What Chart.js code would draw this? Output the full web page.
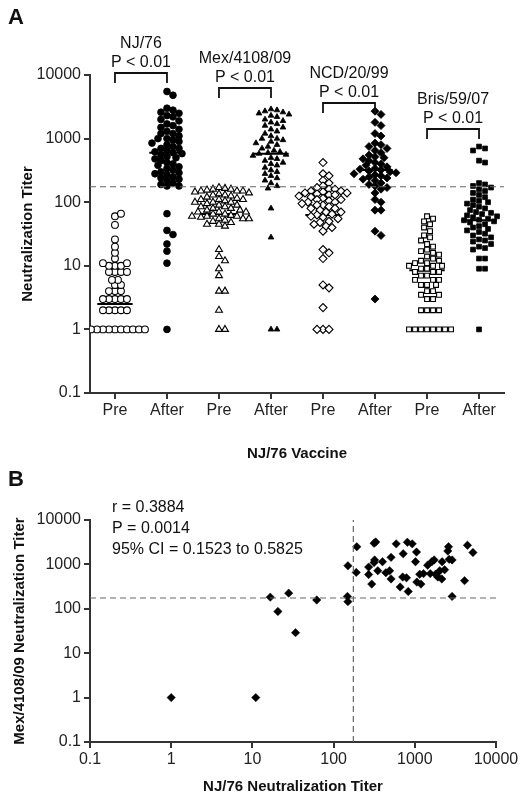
<!DOCTYPE html>
<html>
<head>
<meta charset="utf-8">
<script src="https://cdn.jsdelivr.net/npm/chart.js@4/dist/chart.umd.min.js"></script>
<style>
body { margin: 0; background: #fff; width: 522px; height: 800px; overflow: hidden; }
#wrapA { position: absolute; left: 0; top: 0; width: 522px; height: 460px; }
#wrapB { position: absolute; left: 0; top: 460px; width: 522px; height: 340px; }
</style>
</head>
<body>
<div id="wrapA"><canvas id="chartA"></canvas></div>
<div id="wrapB"><canvas id="chartB"></canvas></div>
<script>
// ---- panel A data ----
const groupLabels = ["Pre", "After", "Pre", "After", "Pre", "After", "Pre", "After"];
const strains = ["NJ/76", "Mex/4108/09", "NCD/20/99", "Bris/59/07"];
const pValues = ["P < 0.01", "P < 0.01", "P < 0.01", "P < 0.01"];
const tickValues = [0.1, 1, 10, 100, 1000, 10000];
const threshold = 175;

const njPre = [1,1,1,1,1,1,1,1,1,1,2,2,2,2,2,3,3,3,3,3,4,4,4,5,5,6,6,8,8,8,8,10,10,10,11,11,13,16,20,26,44,60,66];
const njAfter = [5500,4800,3000,2800,2600,2500,2300,2200,2000,1900,1700,1600,1500,1400,1300,1200,1200,1100,1000,1000,950,900,850,800,750,700,700,650,620,600,580,550,520,500,480,450,420,400,380,360,340,320,300,290,280,270,250,240,230,220,200,190,180,180,66,36,31,22,17,11,1];
const mexPre = [170,165,160,160,155,150,150,150,145,140,135,130,130,125,120,115,110,110,110,105,100,100,100,95,90,90,85,85,80,80,75,75,70,70,70,65,65,62,60,60,60,58,55,55,55,52,50,48,45,45,42,18,14,12,9,7,4,4,2,1,1];
const mexAfter = [2900,2800,2700,2600,2500,2400,2300,2200,2000,1900,1800,1700,1600,1500,1400,1300,1200,1100,1000,1000,950,900,850,800,750,700,650,620,600,580,560,540,500,480,450,420,400,380,350,320,300,280,260,240,220,200,180,165,80,28,1,1];
const ncdPre = [420,280,260,220,200,180,170,160,160,150,150,145,140,140,135,130,130,125,120,115,110,110,105,100,100,95,90,90,85,80,80,75,70,70,65,63,60,58,55,50,48,45,42,40,35,18,16,13,5,4.5,2.2,1,1,1];
const ncdAfter = [2700,2400,1800,1600,1200,1100,850,800,750,700,650,600,550,520,500,480,450,420,400,380,360,340,330,320,310,300,290,280,270,260,250,240,230,220,200,190,180,170,160,140,110,100,75,75,35,30,3];
const brisPre = [60,55,50,45,40,35,30,28,25,22,20,18,17,16,15,14,13,12,12,11,11,10,10,10,9,9,8,8,8,7,7,6,6,6,5,5,5,4,4,3.5,3.5,3,3,2,2,2,2,1,1,1,1,1,1,1,1];
const brisAfter = [750,700,650,450,420,200,190,180,170,160,150,140,130,120,110,105,100,95,90,85,80,75,70,68,65,62,60,58,55,53,52,50,48,45,42,40,38,36,34,32,30,28,26,25,24,22,20,19,18,13,13,9,9,1];
const medians = [2.5, 600, 65, 580, 63, 320, 8.5, 52];

// ---- panel B data ----
const njTiter = [1,11,16.6,20.6,28,34,62,148,150,150,193,190,270,270,295,315,330,320,315,350,400,440,490,510,510,590,660,720,710,790,830,810,930,1020,1050,1060,1150,1190,1280,1440,1550,1620,1730,1800,1920,2030,2150,2170,2330,2550,2600,2650,2880,2880,4100,4450,5200];
const mexTiter = [1,1,183,87,225,29,158,190,145,930,2500,660,870,590,360,3000,3200,1260,1100,720,1150,650,720,1440,470,2900,310,1740,520,500,245,3150,2900,1150,1900,400,600,360,620,960,620,1150,1260,600,520,720,470,1150,760,2000,2500,1300,1260,190,430,2700,1850];
const statLines = ["r = 0.3884", "P = 0.0014", "95% CI = 0.1523 to 0.5825"];

const groups = [njPre, njAfter, mexPre, mexAfter, ncdPre, ncdAfter, brisPre, brisAfter];
const styles = ["circle","circle","triangle","triangle","rectRot","rectRot","rect","rect"];

const FONT = "'Liberation Sans', Arial, sans-serif";
Chart.defaults.font.family = FONT;
Chart.defaults.color = "#222";

// greedy beeswarm: px per category unit 52, px per decade 64.5
function swarm(values, center) {
  const placed = [];
  const minD = 5.6;
  return values.map(v => {
    const py = Math.log10(v) * 64.5;
    let k = 0, off = 0;
    while (true) {
      off = k === 0 ? 0 : (k % 2 ? 1 : -1) * Math.ceil(k / 2) * 3;
      const hit = placed.some(p => Math.hypot(p.x - off, p.y - py) < minD);
      if (!hit) break;
      k++;
    }
    placed.push({ x: off, y: py });
    return { x: center + off / 52, y: v };
  });
}

const decadeTicks = scale => { scale.ticks = tickValues.map(v => ({ value: v })); };

const datasetsA = [];
groups.forEach((vals, i) => {
  const filled = i % 2 === 1;
  const tri = styles[i] === "triangle";
  datasetsA.push({
    type: "scatter",
    data: swarm(vals, i),
    pointStyle: styles[i],
    pointRadius: tri ? (filled ? 3.3 : 4) : (styles[i] === "rectRot" ? 4 : 3.4),
    borderWidth: filled ? 0.8 : 1.1,
    borderColor: "#000",
    backgroundColor: filled ? "#000" : "#fff"
  });
  datasetsA.push({
    type: "line",
    data: [{ x: i - 0.34, y: medians[i] }, { x: i + 0.34, y: medians[i] }],
    borderColor: "#000", borderWidth: 2, pointRadius: 0
  });
});
datasetsA.unshift({
  type: "line",
  data: [{ x: -0.48, y: threshold }, { x: 7.48, y: threshold }],
  borderColor: "#666", borderWidth: 1.2, borderDash: [6, 4], pointRadius: 0
});

const bracketTops = [73, 88, 103, 129];

const annotA = {
  id: "annotA",
  afterDraw(chart) {
    const ctx = chart.ctx, xs = chart.scales.x, a = chart.chartArea;
    ctx.save();
    ctx.fillStyle = "#111";
    ctx.strokeStyle = "#111";
    ctx.lineWidth = 1.8;
    ctx.textAlign = "center";
    ctx.textBaseline = "alphabetic";
    strains.forEach((s, j) => {
      const x1 = xs.getPixelForValue(2 * j), x2 = xs.getPixelForValue(2 * j + 1);
      const t = bracketTops[j];
      ctx.beginPath();
      ctx.moveTo(x1, t + 10); ctx.lineTo(x1, t); ctx.lineTo(x2, t); ctx.lineTo(x2, t + 10);
      ctx.stroke();
      ctx.font = "16px " + FONT;
      const cx = (x1 + x2) / 2;
      ctx.fillText(pValues[j], cx, t - 6);
      ctx.fillText(s, cx, t - 25);
    });
    ctx.font = "bold 22px " + FONT;
    ctx.textAlign = "left";
    ctx.fillText("A", 8, 24);
    ctx.font = "bold 15px " + FONT;
    ctx.textAlign = "center";
    ctx.fillText("NJ/76 Vaccine", (a.left + a.right) / 2, 458);
    ctx.translate(32, (a.top + a.bottom) / 2);
    ctx.rotate(-Math.PI / 2);
    ctx.fillText("Neutralization Titer", 0, 0);
    ctx.restore();
  }
};

new Chart("chartA", {
  data: { datasets: datasetsA },
  options: {
    responsive: true, maintainAspectRatio: false, animation: false,
    layout: { padding: { top: 75, right: 18, left: 0, bottom: 0 } },
    plugins: { legend: { display: false }, tooltip: { enabled: false } },
    scales: {
      x: {
        type: "linear", min: -0.48, max: 7.48,
        afterBuildTicks: s => { s.ticks = groupLabels.map((l, i) => ({ value: i })); },
        afterFit: s => { s.height = 67; },
        ticks: { callback: (v) => groupLabels[v], font: { size: 16 }, color: "#222", autoSkip: false, maxRotation: 0, padding: 2 },
        grid: { drawOnChartArea: false, tickLength: 6, color: "#333", lineWidth: 2 },
        border: { color: "#333", width: 2 }
      },
      y: {
        type: "logarithmic", min: 0.1, max: 10000,
        afterBuildTicks: decadeTicks,
        afterFit: s => { s.width = 90; },
        ticks: { callback: v => String(v), font: { size: 16 }, color: "#222", padding: 3 },
        grid: { drawOnChartArea: false, tickLength: 6, color: "#333", lineWidth: 2 },
        border: { color: "#333", width: 2 }
      }
    }
  },
  plugins: [annotA]
});

// ---- panel B ----
const annotB = {
  id: "annotB",
  afterDraw(chart) {
    const ctx = chart.ctx, a = chart.chartArea;
    ctx.save();
    ctx.fillStyle = "#111";
    ctx.font = "16px " + FONT;
    ctx.textAlign = "left";
    statLines.forEach((t, i) => ctx.fillText(t, 112, 52 + i * 21));
    ctx.font = "bold 22px " + FONT;
    ctx.fillText("B", 8, 26);
    ctx.font = "bold 15px " + FONT;
    ctx.textAlign = "center";
    ctx.fillText("NJ/76 Neutralization Titer", (a.left + a.right) / 2, 331);
    ctx.translate(24, (a.top + a.bottom) / 2);
    ctx.rotate(-Math.PI / 2);
    ctx.fillText("Mex/4108/09 Neutralization Titer", 0, 0);
    ctx.restore();
  }
};

new Chart("chartB", {
  data: {
    datasets: [
      { type: "line", data: [{ x: 0.1, y: threshold }, { x: 10000, y: threshold }], borderColor: "#666", borderWidth: 1.2, borderDash: [6, 4], pointRadius: 0 },
      { type: "line", data: [{ x: threshold, y: 0.1 }, { x: threshold, y: 10000 }], borderColor: "#666", borderWidth: 1.2, borderDash: [6, 4], pointRadius: 0 },
      { type: "scatter", data: njTiter.map((x, i) => ({ x: x, y: mexTiter[i] })), pointStyle: "rectRot", pointRadius: 4.2, backgroundColor: "#000", borderColor: "#000", borderWidth: 0.5 }
    ]
  },
  options: {
    responsive: true, maintainAspectRatio: false, animation: false,
    layout: { padding: { top: 60, right: 26, left: 0, bottom: 0 } },
    plugins: { legend: { display: false }, tooltip: { enabled: false } },
    scales: {
      x: {
        type: "logarithmic", min: 0.1, max: 10000,
        afterBuildTicks: decadeTicks,
        afterFit: s => { s.height = 58; },
        ticks: { callback: v => String(v), font: { size: 16 }, color: "#222", autoSkip: false, maxRotation: 0, padding: 2 },
        grid: { drawOnChartArea: false, tickLength: 6, color: "#333", lineWidth: 2 },
        border: { color: "#333", width: 2 }
      },
      y: {
        type: "logarithmic", min: 0.1, max: 10000,
        afterBuildTicks: decadeTicks,
        afterFit: s => { s.width = 90; },
        ticks: { callback: v => String(v), font: { size: 16 }, color: "#222", padding: 3 },
        grid: { drawOnChartArea: false, tickLength: 6, color: "#333", lineWidth: 2 },
        border: { color: "#333", width: 2 }
      }
    }
  },
  plugins: [annotB]
});
</script>
</body>
</html>
